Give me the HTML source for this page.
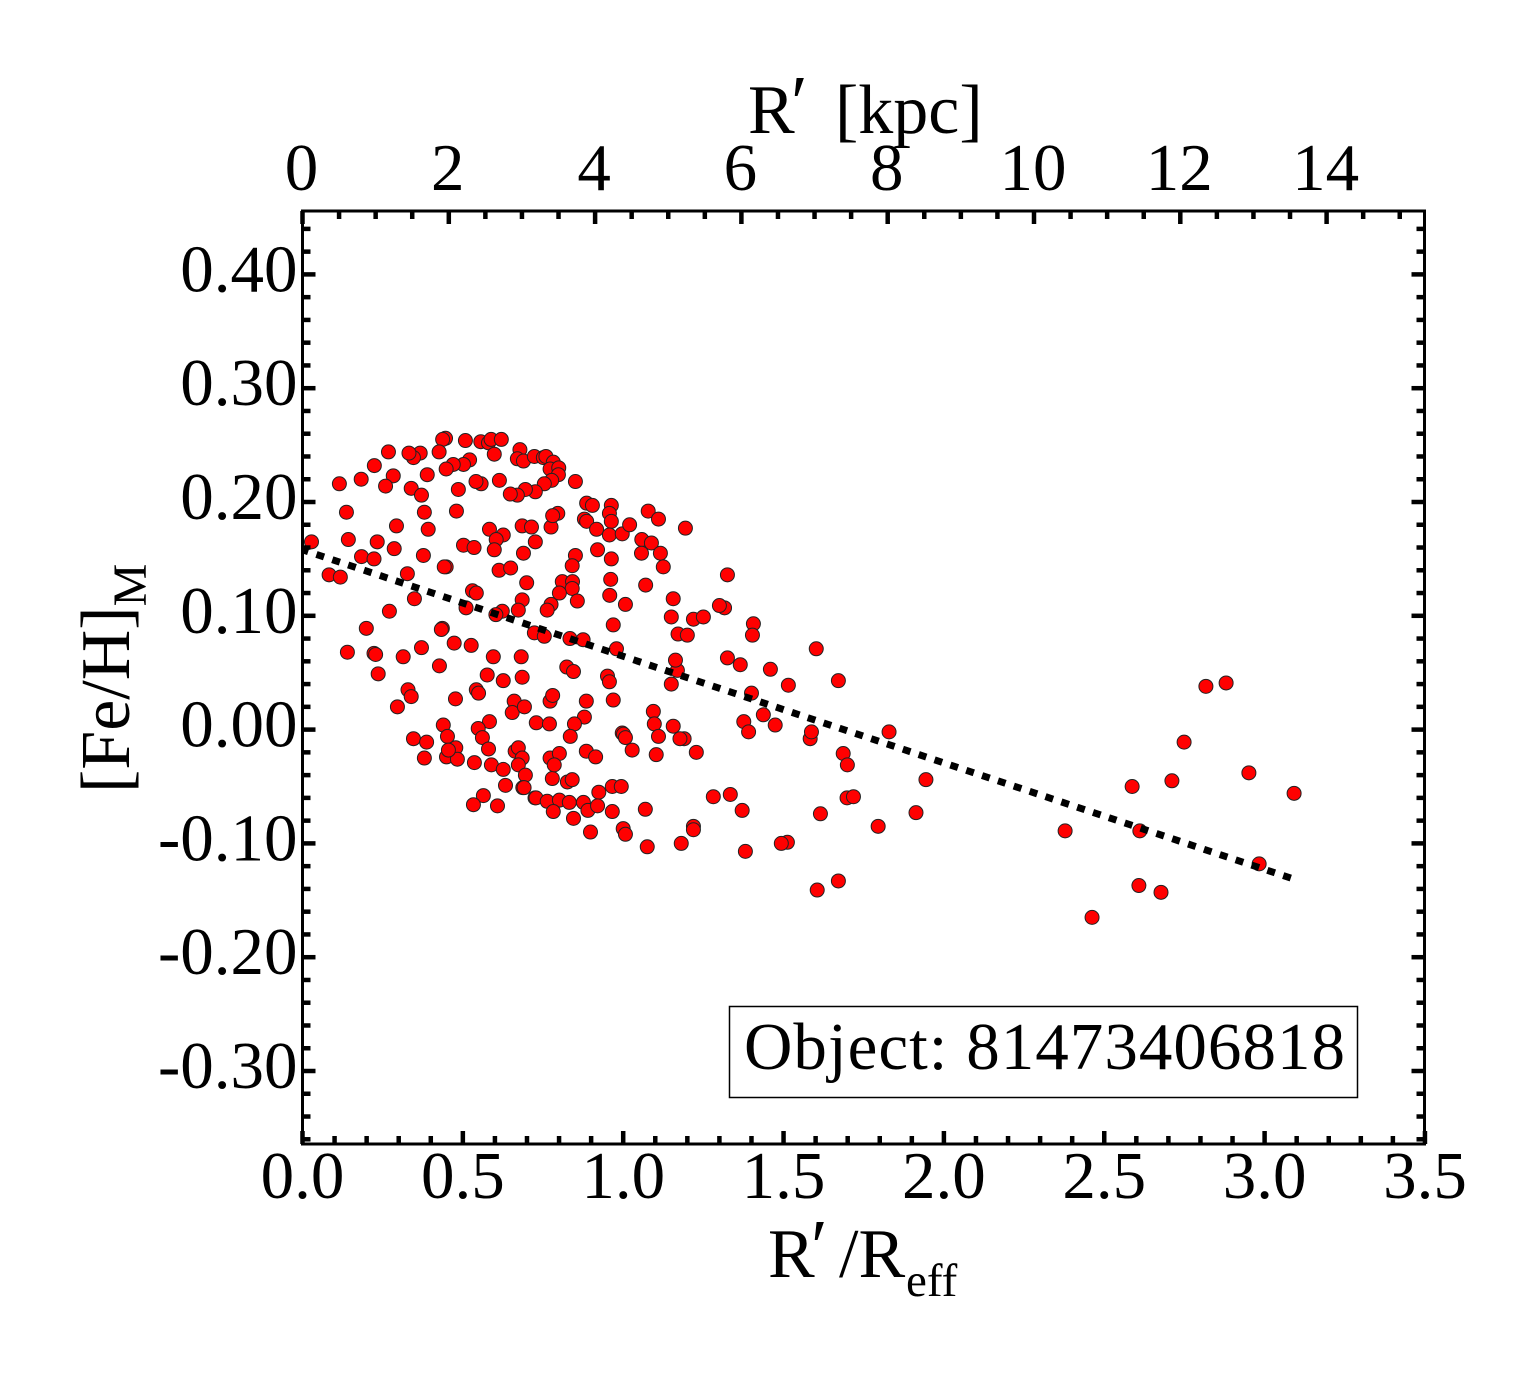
<!DOCTYPE html>
<html lang="en">
<head>
<meta charset="utf-8">
<title>[Fe/H] radial profile</title>
<style>
html,body{margin:0;padding:0;background:#fff;}
svg{display:block;}
text{font-family:"Liberation Serif",serif;fill:#000;}
</style>
</head>
<body>
<svg id="chart" xmlns="http://www.w3.org/2000/svg" width="1540" height="1375" viewBox="0 0 1540 1375">
  <rect x="0" y="0" width="1540" height="1375" fill="#fff"/>
  <g id="points"></g>
  <path id="fit" fill="none" stroke="#000" stroke-width="7" stroke-dasharray="8 8.7" stroke-dashoffset="2"/>
  <g id="ticks"></g>
  <rect x="302.5" y="211" width="1122" height="933" fill="none" stroke="#000" stroke-width="3"/>
  <g id="labels" font-size="67"></g>
  <text font-size="70"><tspan x="748" y="133">R</tspan><tspan x="791" y="128" font-size="76">′</tspan><tspan x="835" y="133">[kpc]</tspan></text>
  <text font-size="70"><tspan x="768" y="1277">R</tspan><tspan x="811" y="1272" font-size="76">′</tspan><tspan x="839" y="1277">/R</tspan><tspan x="906" y="1296" font-size="47">eff</tspan></text>
  <text transform="translate(129,793) rotate(-90)" font-size="70">[Fe/H]<tspan font-size="48" dy="17">M</tspan></text>
  <g>
    <rect x="729.5" y="1006.5" width="628" height="91" fill="#fff" stroke="#000" stroke-width="1.5"/>
    <text x="744" y="1069" font-size="67" textLength="601" lengthAdjust="spacing">Object: 81473406818</text>
  </g>
</svg>
<script>
const rReff = [
.446,.437,.508,.556,.580,.588,.620,.598,.678,.670,.689,.723,.751,.759,.782,.772,.799,.798,.777,.754,.726,.695,.670,.648,.851,.614,.557,.541,.486,.521,.502,.470,.448,.426,.367,.346,.332,.268,.224,.283,.259,.183,.115,.389,.339,.371,.137,.380,.480,.293,.392,.583,.626,.604,.598,.685,.714,.775,.796,.780,.886,.904,.879,.886,.917,.920,.028,.143,.233,.286,.377,.502,.535,.726,.689,.851,.841,.184,.223,.448,.442,.613,.649,.699,.083,.118,.327,.810,.842,.841,.801,.857,.530,.542,.349,.685,.673,.775,.763,.271,.510,.623,.603,.436,.433,.199,.723,.754,.834,.875,
.140,.223,.228,.314,.371,.473,.526,.595,.682,.427,.236,.824,.845,.576,.626,.685,.329,.339,.296,.477,.542,.549,.660,.654,.692,.772,.780,.885,.439,.452,.583,.548,.561,.580,.729,.770,.879,.848,.835,.346,.387,.380,.478,.449,.483,.455,.536,.589,.626,.663,.673,.685,.673,.695,.633,.687,.691,.779,.826,.841,.772,.801,.785,.885,.914,.924,.725,.728,.763,.801,.832,.876,.890,.920,.782,.845,.898,.564,.533,.608,
.963,.957,.963,.957,.997,1.020,1.078,1.110,1.194,1.058,1.088,1.057,1.116,1.125,.963,.961,.958,1.070,1.007,1.156,1.150,1.219,1.250,1.316,1.300,1.325,1.171,1.200,1.406,1.403,1.602,1.671,1.325,1.365,1.459,1.515,1.169,1.163,1.150,1.400,.969,.979,.951,.957,.969,
.966,.994,.966,1.000,1.007,1.069,1.075,1.181,1.219,1.219,1.281,1.334,1.371,1.381,1.512,1.493,1.615,1.698,1.718,1.605,1.671,1.376,1.391,1.437,1.474,1.583,1.587,1.686,1.699,1.094,1.097,1.110,1.156,1.190,1.177,1.228,1.103,1.028,.997,1.001,1.007,
1.829,1.944,1.913,1.795,2.378,2.462,2.587,2.611,2.608,2.677,2.711,2.749,2.817,2.880,2.951,2.983,3.092
];
const feH = [
.256,.255,.254,.253,.252,.255,.255,.242,.246,.238,.236,.240,.239,.240,.235,.229,.230,.224,.219,.216,.209,.211,.206,.207,.218,.219,.216,.218,.211,.237,.233,.233,.229,.244,.243,.239,.243,.244,.232,.223,.214,.220,.216,.224,.212,.206,.191,.191,.192,.179,.176,.176,.171,.167,.158,.179,.178,.178,.190,.188,.199,.197,.185,.183,.176,.158,.165,.167,.165,.159,.153,.162,.160,.165,.155,.153,.144,.152,.150,.143,.143,.140,.142,.129,.136,.134,.137,.130,.130,.124,.120,.113,.122,.120,.115,.114,.105,.110,.105,.104,.107,.104,.101,.089,.088,.089,.085,.082,.080,.079,
.068,.067,.066,.064,.072,.076,.074,.064,.064,.056,.049,.055,.051,.048,.043,.046,.035,.029,.020,.027,.035,.032,.025,.015,.020,.025,.030,.025,.004,-.006,.007,.001,-.007,-.017,.006,.005,.011,.005,-.006,-.008,-.011,-.025,-.016,-.024,-.026,-.018,-.029,-.031,-.035,-.019,-.016,-.025,-.031,-.040,-.049,-.051,-.051,-.043,-.046,-.044,-.025,-.021,-.031,-.019,-.024,-.055,-.060,-.060,-.063,-.062,-.064,-.064,-.071,-.067,-.072,-.078,-.090,-.058,-.066,-.067,
.197,.190,.183,.171,.172,.180,.192,.185,.177,.167,.164,.155,.155,.143,.150,.132,.118,.127,.110,.115,.099,.097,.099,.107,.109,.136,.084,.083,.093,.083,.071,.043,.063,.057,.053,.039,.052,.061,.040,.032,.092,.071,.047,.042,.026,
-.050,-.050,-.072,-.087,-.092,-.070,-.103,-.100,-.085,-.088,-.059,-.057,-.071,-.107,-.099,-.100,-.074,-.060,-.059,-.141,-.133,.007,-.002,.013,.004,-.008,-.002,-.021,-.031,.016,.005,-.006,.003,-.008,-.008,-.020,-.022,-.018,-.003,-.004,-.007,
-.002,-.044,-.073,-.085,-.089,-.165,-.050,-.089,-.137,-.143,-.045,-.011,.038,.041,-.038,-.118,-.056
];
const fitX = [0, 3.087];
const fitY = [0.158, -0.131];
const bottomTickValues = [0.0, 0.5, 1.0, 1.5, 2.0, 2.5, 3.0, 3.5];
const bottomTickLabels = ["0.0", "0.5", "1.0", "1.5", "2.0", "2.5", "3.0", "3.5"];
const topTickValues = [0, 2, 4, 6, 8, 10, 12, 14];
const topTickLabels = ["0", "2", "4", "6", "8", "10", "12", "14"];
const leftTickValues = [0.40, 0.30, 0.20, 0.10, 0.00, -0.10, -0.20, -0.30];
const leftTickLabels = ["0.40", "0.30", "0.20", "0.10", "0.00", "-0.10", "-0.20", "-0.30"];

const NS = "http://www.w3.org/2000/svg";
const xScale = v => 302.5 + v * 320.7;
const kpcScale = v => 302.5 + v * 73.15;
const yScale = v => 729.6 - v * 1138;

const pointsGroup = document.getElementById("points");
rReff.forEach((r, i) => {
  const c = document.createElementNS(NS, "circle");
  
  
  c.setAttribute("cx", xScale(r).toFixed(2));
  c.setAttribute("cy", yScale(feH[i]).toFixed(2));
  c.setAttribute("r", "7");
  c.setAttribute("fill", "#ff0000");
  c.setAttribute("stroke", "#222");
  c.setAttribute("stroke-width", "1");
  pointsGroup.appendChild(c);
});

document.getElementById("fit").setAttribute("d",
  "M" + xScale(fitX[0]) + " " + yScale(fitY[0]) + " L" + xScale(fitX[1]) + " " + yScale(fitY[1]));

const ticksGroup = document.getElementById("ticks");
function addTick(x1, y1, x2, y2) {
  const l = document.createElementNS(NS, "line");
  
  
  l.setAttribute("x1", x1);
  l.setAttribute("y1", y1);
  l.setAttribute("x2", x2);
  l.setAttribute("y2", y2);
  l.setAttribute("stroke", "#000");
  l.setAttribute("stroke-width", "4.5");
  ticksGroup.appendChild(l);
}
const TOP = 211, BOTTOM = 1144, LEFT = 302.5, RIGHT = 1424.5, MAJOR = 13, MINOR = 8;
for (let i = 0; i <= 35; i++) {
  const x = xScale(i / 10);
  addTick(x, BOTTOM, x, BOTTOM - (i % 5 === 0 ? MAJOR : MINOR));
}
for (let i = 0; i <= 30; i++) {
  const x = kpcScale(i / 2);
  addTick(x, TOP, x, TOP + (i % 4 === 0 ? MAJOR : MINOR));
}
for (let i = -18; i <= 22; i++) {
  const y = yScale(i / 50);
  const len = i % 5 === 0 ? MAJOR : MINOR;
  addTick(LEFT, y, LEFT + len, y);
  addTick(RIGHT, y, RIGHT - len, y);
}

const labelsGroup = document.getElementById("labels");
function addLabel(str, x, y, anchor) {
  const t = document.createElementNS(NS, "text");
  
  
  t.setAttribute("x", x);
  t.setAttribute("y", y);
  t.setAttribute("text-anchor", anchor);
  t.textContent = str;
  labelsGroup.appendChild(t);
}
bottomTickValues.forEach((v, i) => addLabel(bottomTickLabels[i], xScale(v), 1198, "middle"));
topTickValues.forEach((v, i) => addLabel(topTickLabels[i], kpcScale(v) - 1, 190, "middle"));
leftTickValues.forEach((v, i) => addLabel(leftTickLabels[i], 297.5, yScale(v) + 17, "end"));
</script>
</body>
</html>
